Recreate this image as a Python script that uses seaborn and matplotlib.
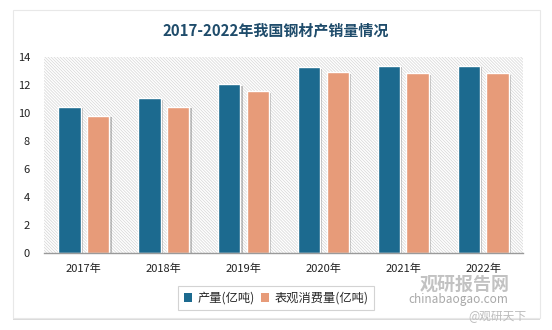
import matplotlib
matplotlib.use("Agg")
import matplotlib.pyplot as plt
import matplotlib.patheffects as pe
from matplotlib.patches import Rectangle
import seaborn as sns
import pandas as pd

years = ["2017年", "2018年", "2019年", "2020年", "2021年", "2022年"]
production = [10.46, 11.06, 12.04, 13.25, 13.37, 13.38]
consumption = [9.82, 10.46, 11.56, 12.92, 12.85, 12.86]
series_names = ["产量(亿吨)", "表观消费量(亿吨)"]
title_text = "2017-2022年我国钢材产销量情况"
yticks = [0, 2, 4, 6, 8, 10, 12, 14]

df = pd.DataFrame({
    "年份": years * 2,
    "数值": production + consumption,
    "指标": [series_names[0]] * len(years) + [series_names[1]] * len(years),
})

sns.set_theme(style="white")
plt.rcParams["font.family"] = ["Noto Sans CJK SC", "DejaVu Sans"]
plt.rcParams["hatch.color"] = "#d8d8d8"
plt.rcParams["hatch.linewidth"] = 0.55

W, H = 552, 330
fig = plt.figure(figsize=(W / 100, H / 100), dpi=100)
fig.patch.set_facecolor("white")

# white card with a soft shadow, kept behind the axes
card = Rectangle((13 / W, 12 / H), 527 / W, 308 / H, transform=fig.transFigure,
                 facecolor="white", edgecolor="#e8e8e8", linewidth=0.8, zorder=-10)
card.set_path_effects([pe.SimplePatchShadow(offset=(0, -1.5), shadow_rgbFace="#9a9a9a", alpha=0.35),
                       pe.Normal()])
fig.patches.append(card)

ax = fig.add_axes([44 / W, (H - 253) / H, 479 / W, 196 / H])
ax.set_zorder(1)
ax.set_facecolor("none")

# finely hatched plot background
bg = Rectangle((0, 0), 1, 1, transform=ax.transAxes, facecolor="white",
               edgecolor="#d8d8d8", hatch="\\" * 11, linewidth=0, zorder=0)
ax.add_patch(bg)

palette = {series_names[0]: "#1c6a8f", series_names[1]: "#e79b79"}
sns.barplot(data=df, x="年份", y="数值", hue="指标", palette=palette,
            width=0.72, gap=0.22, edgecolor="white", linewidth=1.0,
            saturation=1, ax=ax, zorder=3, legend=True)

for p in ax.patches:
    if p is bg:
        continue
    p.set_path_effects([pe.SimplePatchShadow(offset=(1.6, -1.2), shadow_rgbFace="#555555", alpha=0.35),
                        pe.Normal()])

ax.set_xlim(-0.5, len(years) - 0.5)
ax.set_ylim(0, 14)
ax.set_yticks(yticks)
ax.set_yticklabels([str(v) for v in yticks])
ax.set_xlabel("")
ax.set_ylabel("")
ax.tick_params(axis="both", length=0, labelsize=8, colors="#222222")
ax.tick_params(axis="y", pad=10)
ax.tick_params(axis="x", pad=8)
for s in ["top", "right", "left"]:
    ax.spines[s].set_visible(False)
ax.spines["bottom"].set_color("#9a9a9a")
ax.spines["bottom"].set_linewidth(1.0)
ax.spines["bottom"].set_zorder(5)

handles, labels = ax.get_legend_handles_labels()
ax.legend_.remove()
leg = fig.legend(handles, labels, loc="center", bbox_to_anchor=(276 / W, 1 - 298 / H),
                 ncol=2, frameon=True, fancybox=False, fontsize=8.8,
                 handlelength=0.7, handleheight=0.7, handletextpad=0.4,
                 columnspacing=0.5, borderpad=0.45)
leg.get_frame().set_edgecolor("#c8c8c8")
leg.get_frame().set_linewidth(0.8)
for h in leg.legend_handles:
    h.set_path_effects([])
    h.set_edgecolor("none")

fig.text(276 / W, 1 - 30 / H, title_text, ha="center", va="center",
         fontsize=10.8, fontweight="bold", color="#1f4c6b")

# watermark
fig.text(465 / W, 1 - 284 / H, "观研报告网", ha="center", va="center",
         fontsize=13, fontweight="bold", color="#b8b8b8", alpha=0.85, zorder=10)
fig.text(458 / W, 1 - 300 / H, "chinabaogao.com", ha="center", va="center",
         fontsize=8.5, color="#a8a8a8", zorder=10)
fig.text(497 / W, 1 - 317 / H, "@观研天下", ha="center", va="center",
         fontsize=8.5, color="#bdbdbd", zorder=10)

fig.savefig("out.png", dpi=100, facecolor="white")
